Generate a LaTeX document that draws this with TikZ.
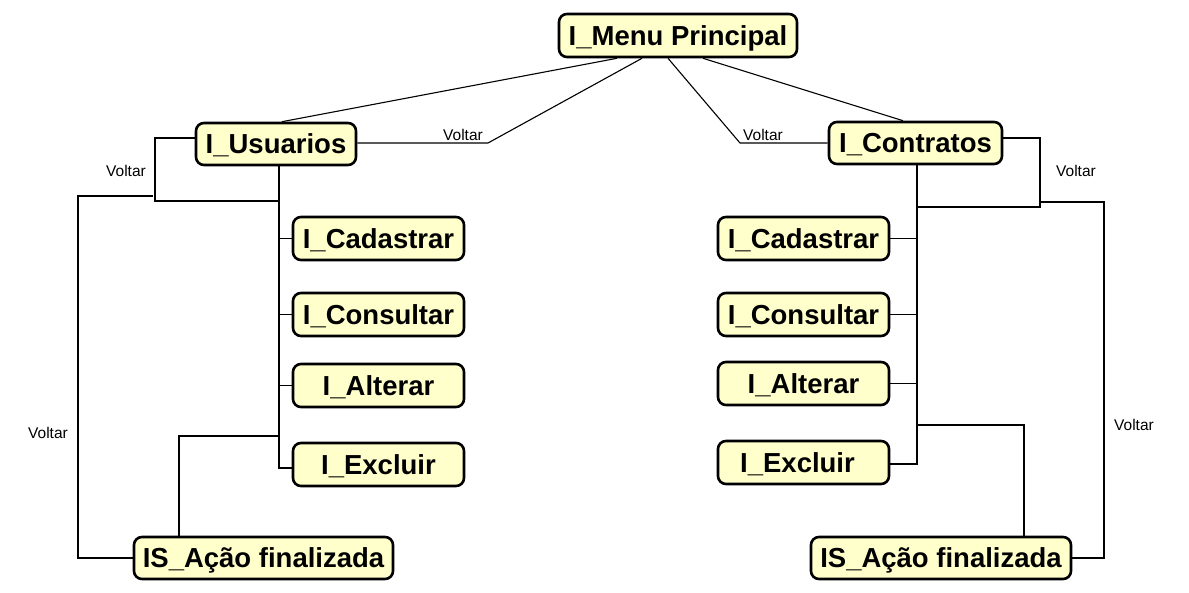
\documentclass[tikz,border=0pt]{standalone}
\usepackage{fontspec}
\setmainfont{Liberation Sans}
\definecolor{boxfill}{RGB}{255,255,204}
\tikzset{
  box/.style={draw=black, line width=2.6pt, fill=boxfill, rounded corners=8pt,
    inner sep=0pt, font=\bfseries\fontsize{27.5}{30}\selectfont, align=center,
    text height=19.7pt, text depth=0pt},
  conn/.style={draw=black, line width=1.1pt},
  lbl/.style={font=\fontsize{15.5}{18}\selectfont, inner sep=0pt}
}
\begin{document}
\begin{tikzpicture}[x=1pt,y=-1pt]
\useasboundingbox (0,0) rectangle (1189,593);
% boxes
\node[box, minimum width=238pt, minimum height=43pt] (menu) at (678,35.5) {I\_Menu Principal};
\node[box, minimum width=160pt, minimum height=42pt] (usu) at (276,144) {I\_Usuarios};
\node[box, minimum width=173pt, minimum height=42pt] (con) at (915.5,143) {I\_Contratos};
\node[box, minimum width=171pt, minimum height=43pt] (lcad) at (378.5,238.5) {I\_Cadastrar};
\node[box, minimum width=171pt, minimum height=43pt] (lcon) at (378.5,314.5) {I\_Consultar};
\node[box, minimum width=171pt, minimum height=43pt] (lalt) at (378.5,385.5) {I\_Alterar};
\node[box, minimum width=171pt, minimum height=43pt] (lexc) at (378.5,464.5) {I\_Excluir};
\node[box, minimum width=259pt, minimum height=42pt] (lis) at (263.5,558) {IS\_Ação finalizada};
\node[box, minimum width=171pt, minimum height=43pt] (rcad) at (803.5,238.5) {I\_Cadastrar};
\node[box, minimum width=171pt, minimum height=43pt] (rcon) at (803.5,314.5) {I\_Consultar};
\node[box, minimum width=171pt, minimum height=43pt] (ralt) at (803.5,383.5) {I\_Alterar};
\node[box, minimum width=171pt, minimum height=43pt] (rexc) at (803.5,462.5) {I\_Excluir\hspace*{12pt}};
\node[box, minimum width=260pt, minimum height=42pt] (ris) at (941,558) {IS\_Ação finalizada};
% helper coordinates
\coordinate (tl) at (279,0);
\coordinate (tr) at (917,0);
\coordinate (ml) at (488,143);
\coordinate (mr) at (740,143);
\coordinate (lv1) at (155,138);
\coordinate (lv2) at (155,201);
\coordinate (lo1) at (153,196);
\coordinate (lo2) at (78,196);
\coordinate (lo3) at (78,558);
\coordinate (la) at (179,436);
\coordinate (lend) at (279,468);
\coordinate (rv1) at (1040,138);
\coordinate (rv2) at (1040,207);
\coordinate (ro1) at (1040,202);
\coordinate (ro2) at (1104,202);
\coordinate (ro3) at (1104,558);
\coordinate (ra) at (1024,425);
\coordinate (rend) at (917,464);
% menu connectors
\draw[conn] ([xshift=-61pt]menu.south) -- ([xshift=6pt]usu.north);
\draw[conn] ([xshift=-36pt]menu.south) -- (ml) -- (ml -| usu.east);
\draw[conn] ([xshift=-10pt]menu.south) -- (mr) -- (mr -| con.west);
\draw[conn] ([xshift=25pt]menu.south) -- ([xshift=-12.5pt]con.north);
% left trunk
\draw[conn] (usu.south -| tl) -- (lend) -- (lend -| lexc.west);
\draw[conn] (lcad.west -| tl) -- (lcad.west);
\draw[conn] (lcon.west -| tl) -- (lcon.west);
\draw[conn] (lalt.west -| tl) -- (lalt.west);
\draw[conn] (lv1 -| usu.west) -- (lv1) -- (lv2) -- (lv2 -| tl);
\draw[conn] (lo1) -- (lo2) -- (lo3) -- (lis.west);
\draw[conn] (lis.north -| la) -- (la) -- (la -| tl);
% right trunk
\draw[conn] (con.south -| tr) -- (rend) -- (rend -| rexc.east);
\draw[conn] (rcad.east) -- (rcad.east -| tr);
\draw[conn] (rcon.east) -- (rcon.east -| tr);
\draw[conn] (ralt.east) -- (ralt.east -| tr);
\draw[conn] (rv1 -| con.east) -- (rv1) -- (rv2) -- (rv2 -| tr);
\draw[conn] (ro1) -- (ro2) -- (ro3) -- (ris.east);
\draw[conn] (ris.north -| ra) -- (ra) -- (ra -| tr);
% labels
\node[lbl] (v1) at (126,171) {Voltar};
\node[lbl] (v2) at (463,135) {Voltar};
\node[lbl] (v3) at (763,135) {Voltar};
\node[lbl] (v4) at (1076,171) {Voltar};
\node[lbl] (v5) at (48,433) {Voltar};
\node[lbl] (v6) at (1134,425) {Voltar};
\end{tikzpicture}
\end{document}
